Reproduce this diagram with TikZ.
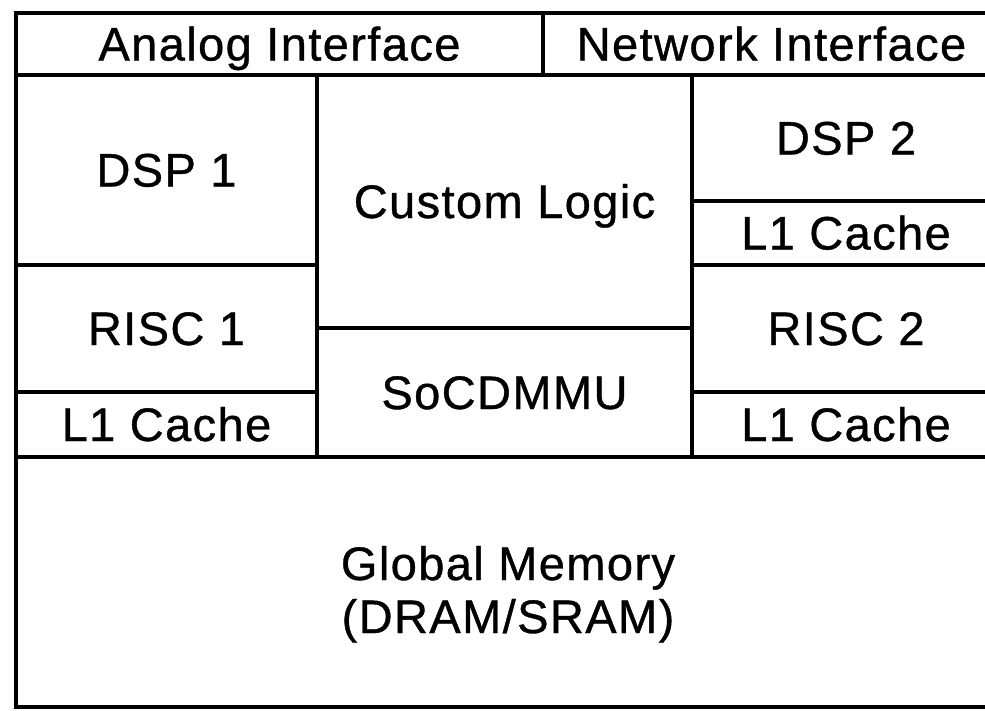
\documentclass[tikz,border=0pt]{standalone}
\usepackage{fontspec}
\setmainfont{Liberation Sans}[LetterSpace=3, FakeBold=0.8]
\begin{document}
\begin{tikzpicture}[x=1pt,y=-1pt,
  blk/.style={draw=black, line width=3.2pt, inner sep=0pt, outer sep=0pt,
    align=center, text height=33pt, text depth=0pt,
    font=\fontsize{47}{53}\selectfont}]
% canvas
\fill[white] (0,0) rectangle (985,710);
\useasboundingbox (0,0) rectangle (985,710);
\clip (0,0) rectangle (985,710);
% top interface row
\node[blk, minimum width=527, minimum height=62] (analog) at (279.5,44) {Analog Interface};
\node[blk, minimum width=457, minimum height=62] (network) at (771.5,44) {Network Interface};
% left column
\node[blk, minimum width=301, minimum height=190] (dsp1) at (166.5,170) {DSP 1};
\node[blk, minimum width=301, minimum height=127] (risc1) at (166.5,328.5) {RISC 1};
\node[blk, minimum width=301, minimum height=65] (l1a) at (166.5,424.5) {L1 Cache};
% middle column
\node[blk, minimum width=375, minimum height=253] (custom) at (504.5,201.5) {Custom Logic};
\node[blk, minimum width=375, minimum height=129] (mmu) at (504.5,392.5) {SoCDMMU};
% right column
\node[blk, minimum width=308, minimum height=126] (dsp2) at (846,138) {DSP 2};
\node[blk, minimum width=308, minimum height=64] (l1b) at (846,233) {L1 Cache};
\node[blk, minimum width=308, minimum height=127] (risc2) at (846,328.5) {RISC 2};
\node[blk, minimum width=308, minimum height=65] (l1c) at (846,424.5) {L1 Cache};
% shared memory
\node[blk, minimum width=984, minimum height=250, text height=102pt] (gmem) at (508,582)
  {Global Memory\\(DRAM/SRAM)};
\end{tikzpicture}
\end{document}
